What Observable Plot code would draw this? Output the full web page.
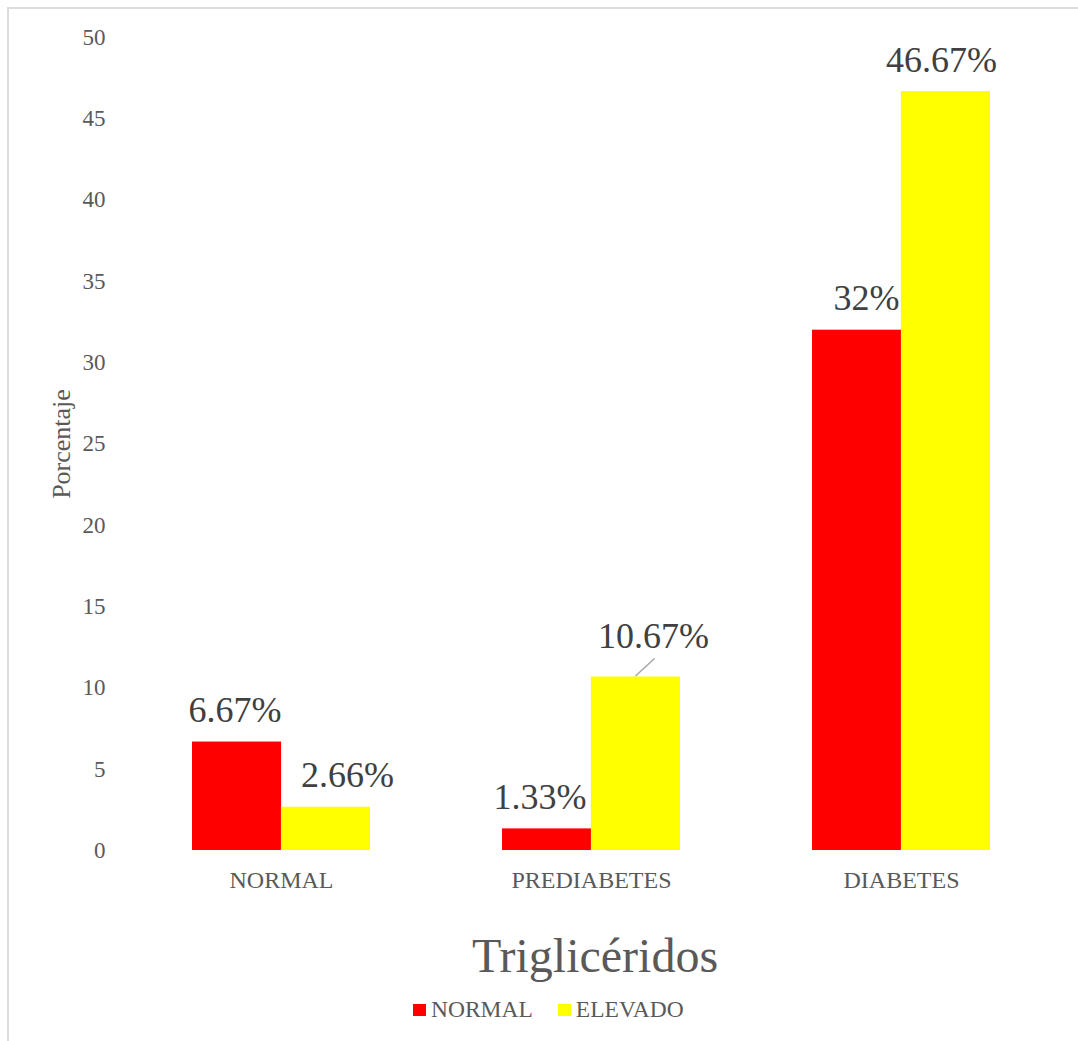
<!DOCTYPE html>
<html lang="es">
<head>
<meta charset="utf-8">
<title>Triglicéridos</title>
<script src="https://cdn.jsdelivr.net/npm/d3@7"></script>
<script src="https://cdn.jsdelivr.net/npm/@observablehq/plot@0.6"></script>
<style>
  html, body { margin: 0; padding: 0; background: #ffffff; }
  body { width: 1078px; height: 1041px; position: relative; overflow: hidden;
         font-family: "Liberation Serif", "Times New Roman", serif; }
  #frame { position: absolute; left: 7px; top: 7px; width: 1200px; height: 1200px;
           border-left: 2px solid #dcdcdc; border-top: 2px solid #dcdcdc;
           pointer-events: none; z-index: 2; }
  #chart { position: absolute; left: 0; top: 0; }
  #title { position: absolute; left: 125px; width: 940px; top: 932px; text-align: center;
           font-size: 48px; line-height: 48px; color: #595959; }
  #legend { position: absolute; left: 413px; top: 998px; display: flex; align-items: center;
            font-size: 23.5px; line-height: 23px; color: #595959; }
  #legend .sw { width: 13px; height: 12px; margin-right: 5px; }
  #legend .item { display: flex; align-items: center; margin-right: 25px; }
</style>
</head>
<body>
<div id="frame"></div>
<div id="chart"></div>
<div id="title">Triglicéridos</div>
<div id="legend"></div>
<script>
// Triglycerides by glycaemic group (% of patients)
const categories = ["NORMAL", "PREDIABETES", "DIABETES"];
const series = ["NORMAL", "ELEVADO"];
const normal = [6.67, 1.33, 32];
const elevado = [2.66, 10.67, 46.67];
const yTicks = [0, 5, 10, 15, 20, 25, 30, 35, 40, 45, 50];
const colors = ["#ff0000", "#ffff00"];

const normalRows = categories.map((c, i) => ({category: c, series: series[0], value: normal[i]}));
const elevadoRows = categories.map((c, i) => ({category: c, series: series[1], value: elevado[i]}));

// layout
const W = 1078, H = 900;
const mL = 125, mR = 22, mT = 37, mB = 50;
const padIn = 0.427, padOut = 0.2135;
const step = (W - mL - mR) / (categories.length - padIn + 2 * padOut);
const half = step * (1 - padIn) / 2;

// small horizontal nudges of the value labels, keyed by "category|series"
const labelShift = {
  "NORMAL|NORMAL": -2, "NORMAL|ELEVADO": 21.5,
  "PREDIABETES|NORMAL": -7, "PREDIABETES|ELEVADO": 17.5,
  "DIABETES|NORMAL": 9.5, "DIABETES|ELEVADO": -4.5
};
const labelLift = {"PREDIABETES|ELEVADO": 29.5};

const font = "'Liberation Serif', 'Times New Roman', serif";

function valueLabel(row) {
  const key = row.category + "|" + row.series;
  const side = row.series === series[0] ? -half / 2 : half / 2;
  return Plot.text([row], {
    x: "category", y: "value",
    text: d => `${d.value}%`,
    dx: side + (labelShift[key] || 0),
    dy: -(labelLift[key] || 20),
    lineAnchor: "bottom", textAnchor: "middle",
    fontSize: 36, fill: "#404040"
  });
}

// leader line from the PREDIABETES / ELEVADO bar top to its label
function leader(index, scales) {
  const x = scales.x, y = scales.y;
  const i = categories.indexOf("PREDIABETES");
  const bw = typeof x.bandwidth === "function" ? x.bandwidth() : 2 * half;
  const x0 = x(categories[i]) + bw * 0.75;
  const y0 = y(elevado[i]);
  const line = document.createElementNS("http://www.w3.org/2000/svg", "line");
  line.setAttribute("x1", x0);
  line.setAttribute("y1", y0 - 0.5);
  line.setAttribute("x2", x0 + 19);
  line.setAttribute("y2", y0 - 18);
  line.setAttribute("stroke", "#a6a6a6");
  line.setAttribute("stroke-width", 1.5);
  return line;
}

const chart = Plot.plot({
  width: W, height: H,
  marginLeft: mL, marginRight: mR, marginTop: mT, marginBottom: mB,
  style: {fontFamily: font, background: "transparent", overflow: "visible"},
  x: {domain: categories, paddingInner: padIn, paddingOuter: padOut, axis: null},
  y: {domain: [0, 50], axis: null},
  marks: [
    Plot.barY(normalRows, {x: "category", y: "value", fill: colors[0], insetRight: half}),
    Plot.barY(elevadoRows, {x: "category", y: "value", fill: colors[1], insetLeft: half}),
    Plot.axisY({ticks: yTicks, tickSize: 0, tickPadding: 20, label: null,
                fontSize: 23, color: "#595959", tickFormat: d => String(d)}),
    Plot.axisX({tickSize: 0, tickPadding: 20, label: null, fontSize: 24, color: "#595959"}),
    Plot.text(["Porcentaje"], {text: d => d, frameAnchor: "left", dx: -64, rotate: -90,
                               textAnchor: "middle", lineAnchor: "middle",
                               fontSize: 26, fill: "#595959"}),
    ...normalRows.map(valueLabel),
    ...elevadoRows.map(valueLabel),
    leader
  ]
});
document.getElementById("chart").appendChild(chart);

// legend
const legend = document.getElementById("legend");
series.forEach((s, i) => {
  const item = document.createElement("div");
  item.className = "item";
  const sw = document.createElement("div");
  sw.className = "sw";
  sw.style.background = colors[i];
  const label = document.createElement("span");
  label.textContent = s;
  item.appendChild(sw);
  item.appendChild(label);
  legend.appendChild(item);
});
</script>
</body>
</html>
